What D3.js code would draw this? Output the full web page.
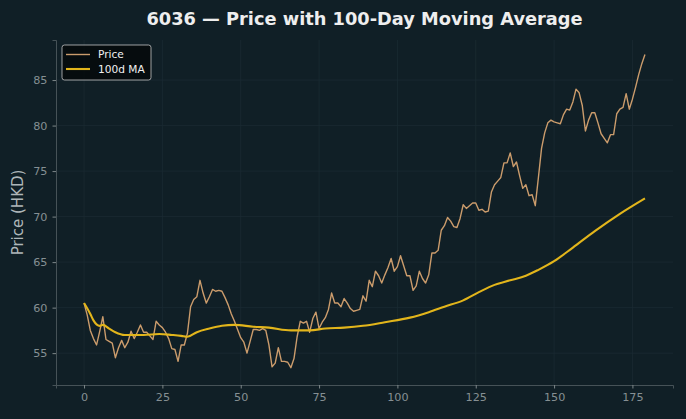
<!DOCTYPE html>
<html>
<head>
<meta charset="utf-8">
<script src="https://cdn.jsdelivr.net/npm/d3@7"></script>
<style>
  html, body { margin: 0; padding: 0; background: #101f26; }
  svg { display: block; font-family: "DejaVu Sans", sans-serif; }
</style>
</head>
<body>
<script>
// closing prices, one per trading day (day index = position)
const price = [
  60.5, 59.2, 57.5, 56.6, 55.9, 57.4, 59.0, 56.5, 56.3, 56.1,
  54.5, 55.6, 56.4, 55.6, 56.2, 57.4, 56.6, 57.3, 58.1, 57.3,
  57.3, 56.9, 56.5, 58.5, 58.1, 57.8, 57.3, 56.6, 55.5, 55.4,
  54.1, 55.9, 55.9, 57.2, 60.1, 60.9, 61.2, 63.0, 61.6, 60.5,
  61.2, 62.0, 61.8, 61.9, 61.8, 61.1, 60.3, 59.3, 58.5, 57.6,
  56.7, 56.2, 55.0, 56.3, 57.6, 57.6, 57.5, 57.7, 57.5, 55.9,
  53.5, 53.9, 55.6, 54.1, 54.1, 54.0, 53.4, 54.4, 56.8, 58.5,
  58.3, 58.5, 57.3, 58.8, 59.5, 57.7, 58.4, 58.9, 59.8, 61.6,
  60.5, 60.5, 60.1, 61.0, 60.5, 59.9, 59.6, 59.7, 59.8, 61.3,
  60.7, 63.0, 62.3, 64.0, 63.5, 62.7, 63.6, 64.4, 65.4, 64.0,
  64.5, 65.7, 64.6, 63.5, 63.5, 61.9, 62.4, 64.0, 63.2, 62.7,
  63.6, 66.0, 66.0, 66.3, 68.5, 69.0, 69.9, 69.5, 68.9, 68.8,
  69.8, 71.3, 70.9, 71.2, 71.5, 71.5, 70.7, 70.8, 70.5, 70.6,
  72.7, 73.5, 73.9, 74.3, 75.9, 75.9, 77.0, 75.5, 76.0, 74.5,
  73.1, 73.5, 72.3, 72.4, 71.2, 74.3, 77.5, 79.2, 80.3, 80.6,
  80.4, 80.3, 80.2, 81.2, 81.8, 81.7, 82.6, 84.0, 83.6, 82.2,
  79.4, 80.6, 81.4, 81.4, 80.3, 79.1, 78.6, 78.1, 79.0, 79.0,
  81.3, 81.8, 82.0, 83.5, 81.8, 82.9, 84.2, 85.6, 86.8, 87.8
];

const maDays   = [0, 2, 3, 5, 6, 8, 10, 13, 19, 24, 28, 31, 33, 36, 40, 44, 48, 54, 59, 66,
                  72, 77, 83, 89, 96, 104, 110, 115, 121, 126, 131, 136, 141, 145, 150, 156, 163, 171, 179];
const maValues = [60.5, 59.3, 58.6, 58.0, 58.1, 57.7, 57.3, 57.0, 57.0, 57.1, 57.0, 56.9, 56.8, 57.3, 57.7, 58.0, 58.1, 57.9, 57.8, 57.5,
                  57.5, 57.7, 57.8, 58.0, 58.4, 58.9, 59.5, 60.1, 60.8, 61.7, 62.5, 63.0, 63.5, 64.15, 65.1, 66.6, 68.4, 70.3, 72.0];

const xTicks = [0, 25, 50, 75, 100, 125, 150, 175];
const yTicks = [55, 60, 65, 70, 75, 80, 85];

const W = 686, H = 419;
const m = { top: 40, right: 13, bottom: 34, left: 56 };

const svg = d3.select("body").append("svg")
    .attr("width", W)
    .attr("height", H);

svg.append("rect").attr("width", W).attr("height", H).attr("fill", "#101f26");

const x = d3.scaleLinear().domain([-8.95, 187.95]).range([m.left, W - m.right]);
const y = d3.scaleLinear().domain([51.5, 89.4]).range([H - m.bottom, m.top]);

// grid
const g = svg.append("g");
g.selectAll(".gx").data(xTicks).join("line")
    .attr("x1", d => x(d)).attr("x2", d => x(d))
    .attr("y1", m.top).attr("y2", H - m.bottom)
    .attr("stroke", "#1a2b32").attr("stroke-width", 0.8);
g.selectAll(".gy").data(yTicks).join("line")
    .attr("x1", m.left).attr("x2", W - m.right)
    .attr("y1", d => y(d)).attr("y2", d => y(d))
    .attr("stroke", "#1a2b32").attr("stroke-width", 0.8);

// axes
const xAxis = svg.append("g")
    .attr("transform", `translate(0,${H - m.bottom})`)
    .call(d3.axisBottom(x).tickValues(xTicks).tickSize(3.5).tickPadding(5));
const yAxis = svg.append("g")
    .attr("transform", `translate(${m.left},0)`)
    .call(d3.axisLeft(y).tickValues(yTicks).tickSize(3.5).tickPadding(5));

[xAxis, yAxis].forEach(a => {
  a.select(".domain").attr("stroke", "#4d585c").attr("stroke-width", 0.9);
  a.selectAll(".tick line").attr("stroke", "#7d8789");
  a.selectAll(".tick text").attr("fill", "#858f93").attr("font-size", 11.2)
      .attr("font-family", "DejaVu Sans");
});

// lines
const priceLine = d3.line().x((d, i) => x(i)).y(d => y(d));
svg.append("path").datum(price)
    .attr("d", priceLine)
    .attr("fill", "none")
    .attr("stroke", "#cb9c6c")
    .attr("stroke-width", 1.4)
    .attr("stroke-linejoin", "round");

const maLine = d3.line().x(d => x(d[0])).y(d => y(d[1])).curve(d3.curveMonotoneX);
svg.append("path").datum(d3.zip(maDays, maValues))
    .attr("d", maLine)
    .attr("fill", "none")
    .attr("stroke", "#e2b51b")
    .attr("stroke-width", 2.1)
    .attr("stroke-linejoin", "round");

// labels
svg.append("text")
    .attr("x", (m.left + W - m.right) / 2).attr("y", 24.5)
    .attr("text-anchor", "middle")
    .attr("fill", "#eeeeee").attr("font-size", 17.8).attr("font-weight", "bold")
    .text("6036 — Price with 100-Day Moving Average");

svg.append("text")
    .attr("transform", `translate(22.5,${(m.top + H - m.bottom) / 2}) rotate(-90)`)
    .attr("text-anchor", "middle")
    .attr("fill", "#aeb6b9").attr("font-size", 15)
    .text("Price (HKD)");

// legend
const lg = svg.append("g").attr("transform", "translate(62,45)");
lg.append("rect").attr("width", 89).attr("height", 35).attr("rx", 2.5)
    .attr("fill", "#05090b").attr("fill-opacity", 0.85)
    .attr("stroke", "#c4c4c4").attr("stroke-width", 0.8);
const items = [["Price", "#cb9c6c", 1.4], ["100d MA", "#e2b51b", 2.1]];
items.forEach((it, k) => {
  const yy = 9.5 + k * 14.5;
  lg.append("line").attr("x1", 4).attr("x2", 28).attr("y1", yy).attr("y2", yy)
      .attr("stroke", it[1]).attr("stroke-width", it[2]);
  lg.append("text").attr("x", 36).attr("y", yy + 3.8)
      .attr("fill", "#f0f0f0").attr("font-size", 10.6).text(it[0]);
});
</script>
</body>
</html>
